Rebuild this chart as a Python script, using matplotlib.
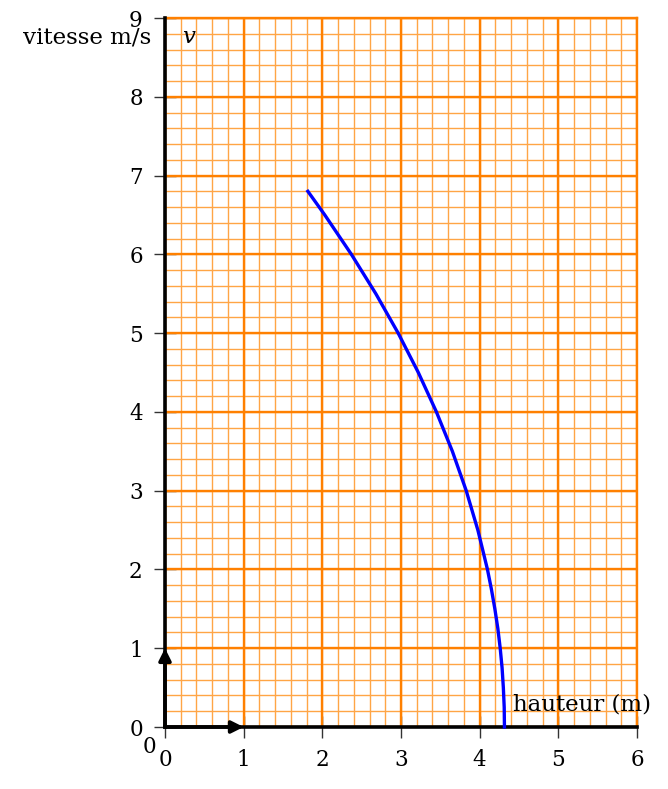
import matplotlib
matplotlib.use("Agg")
import matplotlib.pyplot as plt
import numpy as np

# Data
hauteur = [1.816, 2.031, 2.369, 2.680, 2.964, 3.220, 3.450, 3.653, 3.829, 3.977,
           4.099, 4.149, 4.193, 4.231, 4.261, 4.285, 4.301, 4.312, 4.315]
vitesse = [6.80, 6.50, 6.00, 5.50, 5.00, 4.50, 4.00, 3.50, 3.00, 2.50,
           2.00, 1.75, 1.50, 1.25, 1.00, 0.75, 0.50, 0.25, 0.00]
x_ticks = [0, 1, 2, 3, 4, 5, 6]
y_ticks = [0, 1, 2, 3, 4, 5, 6, 7, 8, 9]

plt.rcParams['font.family'] = ['DejaVu Serif']

W, H = 668, 789
fig = plt.figure(figsize=(W / 100, H / 100), dpi=100)
ax = fig.add_axes([165 / W, 62 / H, 472 / W, 709 / H])

orange = '#FF8000'
minor_orange = '#FFA545'
ax.set_xlim(0, 6)
ax.set_ylim(0, 9)
ax.set_xticks(x_ticks)
ax.set_yticks(y_ticks)

x_minor = np.arange(0, 6.001, 0.2)
y_minor = np.arange(0, 9.001, 0.2)
ax.vlines(x_minor, 0, 9, colors=minor_orange, lw=1.0, zorder=1)
ax.hlines(y_minor, 0, 6, colors=minor_orange, lw=1.0, zorder=1)
ax.vlines(x_ticks, 0, 9, colors=orange, lw=1.7, zorder=2)
ax.hlines(y_ticks, 0, 6, colors=orange, lw=1.7, zorder=2)

ax.tick_params(which='major', direction='inout', length=16, width=1.0,
               color='#333333', labelsize=15.5, pad=8)

for s in ['top', 'right']:
    ax.spines[s].set_color(orange)
    ax.spines[s].set_linewidth(1.7)
for s in ['left', 'bottom']:
    ax.spines[s].set_color('black')
    ax.spines[s].set_linewidth(2.6)
    ax.spines[s].set_zorder(3)

ax.plot(hauteur, vitesse, color='#0000FF', lw=2.4, zorder=4, clip_on=False,
        solid_joinstyle='round')

# unit arrows
arrow_kw = dict(arrowstyle='-|>', lw=2.6, color='black', mutation_scale=18,
                shrinkA=0, shrinkB=0)
ax.annotate('', xy=(1, 0), xytext=(0, 0), arrowprops=arrow_kw, zorder=5,
            annotation_clip=False)
ax.annotate('', xy=(0, 1), xytext=(0, 0), arrowprops=arrow_kw, zorder=5,
            annotation_clip=False)

ax.text(-0.20, -0.26, '0', fontsize=15.5, ha='center', va='center', clip_on=False)

fig.text(151 / W, 1 - 43 / H, 'vitesse m/s', fontsize=16.5, ha='right', va='baseline')
fig.text(182 / W, 1 - 43 / H, 'v', fontsize=16.5, ha='left', va='baseline', style='italic')
fig.text(513 / W, 1 - 711 / H, 'hauteur (m)', fontsize=16.5, ha='left', va='baseline')

fig.savefig('out.png', dpi=100)
